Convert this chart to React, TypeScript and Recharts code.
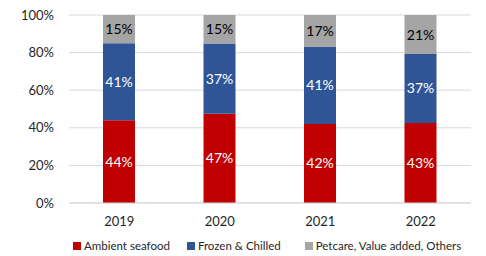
import { BarChart, Bar, XAxis, YAxis, CartesianGrid, Legend, LabelList } from "recharts";

const years = ["2019", "2020", "2021", "2022"];
const ambient = [44, 47, 42, 43];
const frozen = [41, 37, 41, 37];
const petcare = [15, 15, 17, 21];
const yTicks = [0, 0.2, 0.4, 0.6, 0.8, 1];

const FONT = "Lato, 'Liberation Sans', sans-serif";

const series = [
  { key: "ambient", name: "Ambient seafood", color: "#C00000", text: "#ffffff", gap: 0 },
  { key: "frozen", name: "Frozen & Chilled", color: "#2F5597", text: "#ffffff", gap: 17 },
  { key: "petcare", name: "Petcare, Value added, Others", color: "#A5A5A5", text: "#000000", gap: 24 },
];

const data = years.map((year, i) => ({
  year,
  ambient: ambient[i],
  frozen: frozen[i],
  petcare: petcare[i],
}));

function LegendContent() {
  return (
    <div style={{ display: "flex", justifyContent: "flex-start", paddingLeft: 73, paddingTop: 4, whiteSpace: "nowrap", fontFamily: FONT, fontSize: 11.5, color: "#262626" }}>
      {series.map((s) => (
        <div key={s.key} style={{ display: "flex", alignItems: "center", flexShrink: 0, marginLeft: s.gap }}>
          <span style={{ width: 8, height: 8, background: s.color, display: "inline-block", marginRight: 3 }} />
          {s.name}
        </div>
      ))}
    </div>
  );
}

export default function App() {
  return (
    <div style={{ position: "absolute", left: 0, top: 0, background: "#fff" }}>
      <BarChart
        width={486}
        height={256}
        data={data}
        stackOffset="expand"
        margin={{ top: 15, right: 15, left: 0, bottom: 0 }}
      >
        <CartesianGrid vertical={false} stroke="#D9D9D9" />
        <XAxis
          dataKey="year"
          tickLine={false}
          tickSize={0}
          tickMargin={14}
          height={32}
          axisLine={{ stroke: "#D9D9D9" }}
          tick={{ fill: "#262626", fontSize: 13, fontFamily: FONT }}
        />
        <YAxis
          width={69}
          ticks={yTicks}
          domain={[0, 1]}
          tickFormatter={(v) => `${Math.round(v * 100)}%`}
          axisLine={false}
          tickLine={false}
          tickSize={0}
          tickMargin={15}
          tick={{ fill: "#262626", fontSize: 13, fontFamily: FONT }}
        />
        <Legend content={<LegendContent />} verticalAlign="bottom" height={21} />
        {series.map((s) => (
          <Bar key={s.key} dataKey={s.key} name={s.name} stackId="a" fill={s.color} barSize={32} isAnimationActive={false}>
            <LabelList
              dataKey={s.key}
              position="center"
              formatter={(v: any) => `${v}%`}
              style={{ fill: s.text, fontSize: 14, fontFamily: FONT }}
            />
          </Bar>
        ))}
      </BarChart>
    </div>
  );
}
